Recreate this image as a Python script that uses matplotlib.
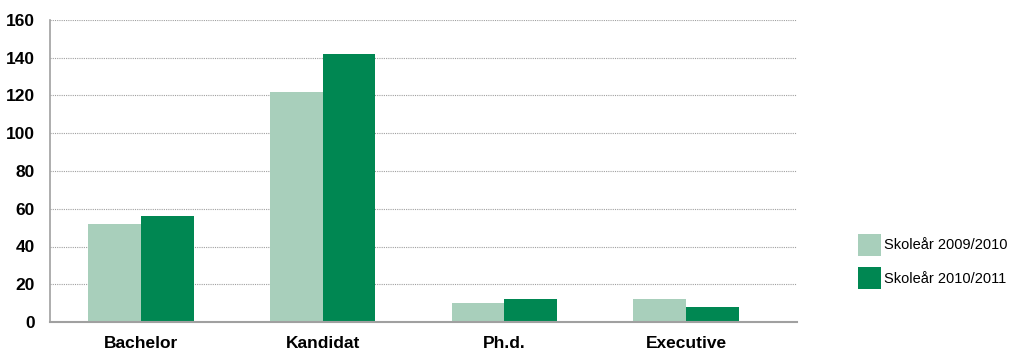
import numpy as np
import matplotlib.pyplot as plt
from matplotlib import font_manager

categories = ["Bachelor", "Kandidat", "Ph.d.", "Executive"]
series_names = ["Skoleår 2009/2010", "Skoleår 2010/2011"]
values_2009 = [52, 122, 10, 12]
values_2010 = [56, 142, 12, 8]
yticks = [0, 20, 40, 60, 80, 100, 120, 140, 160]

colors = ["#a8cfbb", "#008752"]

names = {f.name for f in font_manager.fontManager.ttflist}
narrow = "Liberation Sans Narrow" if "Liberation Sans Narrow" in names else "Liberation Sans"
plt.rcParams['font.family'] = [narrow, "DejaVu Sans"]

fig = plt.figure(figsize=(10.13, 3.51), dpi=100)
ax = fig.add_axes([50 / 1013, 29 / 351, 747 / 1013, 302 / 351])

x = np.arange(len(categories))
wid = 0.29
ax.bar(x - wid / 2, values_2009, width=wid, color=colors[0], label=series_names[0], zorder=2)
ax.bar(x + wid / 2, values_2010, width=wid, color=colors[1], label=series_names[1], zorder=2)

ax.set_xlim(-0.5, 3.61)
ax.set_ylim(0, 160)
ax.set_yticks(yticks)
ax.set_yticklabels([str(t) for t in yticks], fontsize=12.5, fontweight='bold')
ax.set_xticks(x)
ax.set_xticklabels(categories, fontsize=12.5, fontweight='bold')
ax.tick_params(axis='both', length=0)
ax.tick_params(axis='y', pad=11)
ax.tick_params(axis='x', pad=10)

ax.grid(axis='y', color='#a0a0a0', linestyle=(0, (1, 1)), linewidth=0.8, zorder=0)
for s in ["top", "right"]:
    ax.spines[s].set_visible(False)
ax.spines["left"].set_color("#a0a0a0")
ax.spines["bottom"].set_color("#a0a0a0")
ax.spines["left"].set_linewidth(1.2)
ax.spines["bottom"].set_linewidth(1.5)

ax.legend(loc='center left', bbox_to_anchor=(1.074, 0.2), frameon=False,
          fontsize=10.5, handlelength=1.55, handleheight=1.95, handletextpad=0.25,
          labelspacing=0.8, borderaxespad=0)

fig.savefig("out.png", dpi=100)
